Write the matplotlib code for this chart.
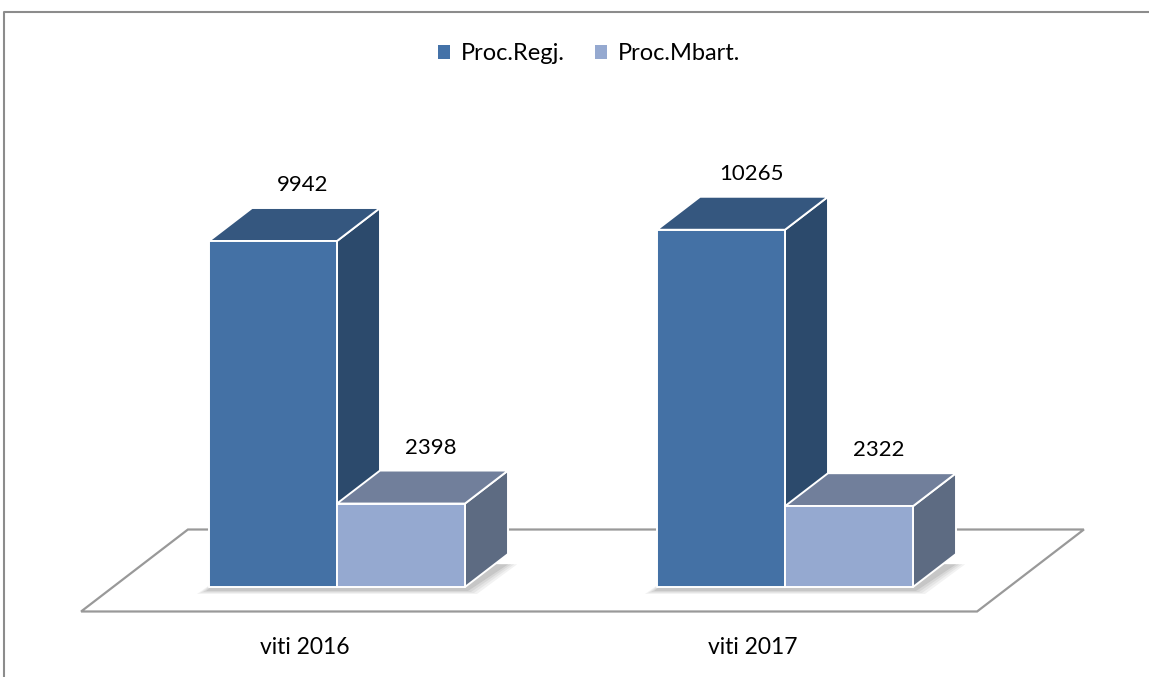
import matplotlib
matplotlib.use("Agg")
import matplotlib.pyplot as plt
from matplotlib.patches import Polygon, Patch
from matplotlib.lines import Line2D

# ── Data ──────────────────────────────────────────────────────────────────────
categories = ["viti 2016", "viti 2017"]
series = ["Proc.Regj.", "Proc.Mbart."]
proc_regj = [9942, 10265]
proc_mbart = [2398, 2322]
values = [proc_regj, proc_mbart]

# face colours per series: front, top, side
FACES = [
    ("#4471A5", "#35577F", "#2C4A6C"),
    ("#95A9D0", "#717F9B", "#5D6B82"),
]
LEGEND_COLORS = ["#4472A8", "#95A9D0"]
FONT = "Lato"

W, H, DPI = 1149, 677, 100
fig = plt.figure(figsize=(W / DPI, H / DPI), dpi=DPI)
ax = fig.add_axes([0, 0, 1, 1])
ax.set_axis_off()

# pixel scale: 448 px per category, value 0 at 587 px from top
PX_CAT = 448.0
PX_VAL = 346.0 / 9942
ax.set_xlim(-337 / PX_CAT, (W - 337) / PX_CAT)
ax.set_ylim(-(H - 587) / PX_VAL, 587 / PX_VAL)

# depth vector of one bar (oblique projection)
DX = 43 / PX_CAT
DY = 33 / PX_VAL
BW = 128 / PX_CAT
FLOOR_FRONT, FLOOR_BACK = -0.742, 1.742


def depth(x, y, d):
    return (x + DX * d, y + DY * d)


# ── Floor ─────────────────────────────────────────────────────────────────────
x0, x1 = -0.5, len(categories) - 0.5
floor = [depth(x0, 0, FLOOR_FRONT), depth(x1, 0, FLOOR_FRONT),
         depth(x1, 0, FLOOR_BACK), depth(x0, 0, FLOOR_BACK)]
ax.add_patch(Polygon(floor, closed=True, fc="white", ec="#999999", lw=1.6, zorder=1))

# ── Bars ──────────────────────────────────────────────────────────────────────
for ci, cat in enumerate(categories):
    left = ci - BW * len(series) / 2
    # soft shadow under the group
    gl, gr = left, left + BW * len(series)
    for k, a in enumerate([0.05, 0.05, 0.06, 0.08]):
        grow = (4 - k) * 3 / PX_CAT
        sh = [(gl - grow, -(3 + 4 - k) / PX_VAL), (gr + grow, -(3 + 4 - k) / PX_VAL),
              depth(gr + grow + 8 / PX_CAT, -(2) / PX_VAL, 0.75),
              depth(gl, 0, 0.75)]
        ax.add_patch(Polygon(sh, closed=True, fc="black", ec="none", alpha=a, zorder=2))

    for si in range(len(series)):
        v = values[si][ci]
        xl = left + si * BW
        xr = xl + BW
        front_c, top_c, side_c = FACES[si]
        front = [(xl, 0), (xr, 0), (xr, v), (xl, v)]
        top = [(xl, v), (xr, v), depth(xr, v, 1), depth(xl, v, 1)]
        side = [(xr, 0), depth(xr, 0, 1), depth(xr, v, 1), (xr, v)]
        z = 3 + si
        for poly, col in [(side, side_c), (top, top_c), (front, front_c)]:
            ax.add_patch(Polygon(poly, closed=True, fc=col, ec="white",
                                 lw=1.4, joinstyle="round", zorder=z))
        lx, ly = depth(xl + BW / 2, v, 1)
        ax.text(lx - 0.3 * DX, ly + 23 / PX_VAL, f"{v}", ha="center", va="center",
                fontsize=16, family=FONT, color="black", zorder=10)

    fx, _ = depth(ci, 0, FLOOR_FRONT)
    ax.text(fx, -61 / PX_VAL, cat, ha="center", va="center",
            fontsize=16.5, family=FONT, color="black")

# ── Chart frame (top and left edge) ──────────────────────────────────────────
fig.add_artist(Line2D([4 / W, 4 / W, 1.01], [-0.01, 1 - 12 / H, 1 - 12 / H],
                      color="#8c8c8c", lw=1.5, transform=fig.transFigure))

# ── Legend ───────────────────────────────────────────────────────────────────
handles = [Patch(fc=c, ec="none") for c in LEGEND_COLORS]
fig.legend(handles, series, loc="center", bbox_to_anchor=(589 / W, 1 - 54 / H),
           ncol=2, frameon=False, handlelength=0.5, handleheight=0.5,
           handletextpad=0.45, columnspacing=1.3, borderpad=0,
           prop={"family": FONT, "size": 17})

fig.savefig("out.png", dpi=DPI)
